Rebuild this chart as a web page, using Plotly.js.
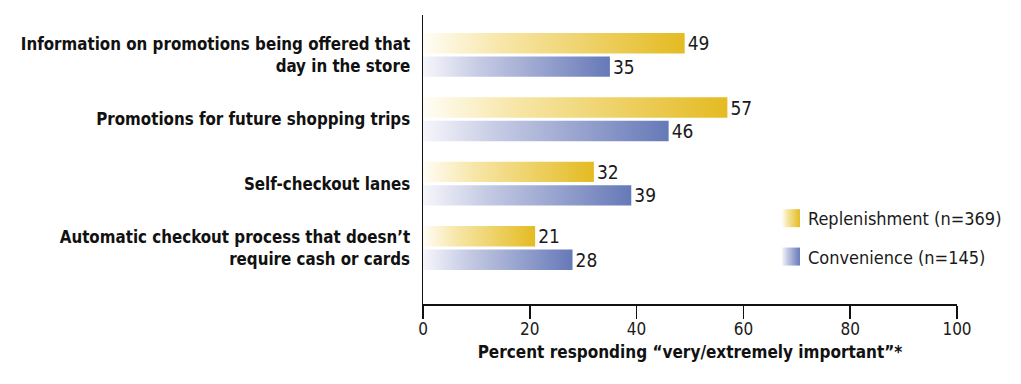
<!DOCTYPE html>
<html><head><meta charset="utf-8">
<script src="https://cdn.plot.ly/plotly-3.0.1.min.js"></script>
<style>html,body{margin:0;padding:0;background:#fff}</style>
</head>
<body>
<div id="chart" style="width:1021px;height:384px"></div>
<script>
const categories = [
  "Information on promotions being offered that<br>day in the store",
  "Promotions for future shopping trips",
  "Self-checkout lanes",
  "Automatic checkout process that doesn’t<br>require cash or cards"
];
const replenishment = [49, 57, 32, 21];
const convenience = [35, 46, 39, 28];
const seriesNames = ["Replenishment (n=369)", "Convenience (n=145)"];
const xTickVals = [0, 20, 40, 60, 80, 100];
const xTitle = "Percent responding “very/extremely important”*";

const FONT = "'DejaVu Sans Condensed', 'Liberation Sans Narrow', sans-serif";
const GOLD = "#e4bb22", BLUE = "#6679b8";

function barTrace(vals, name, color, grp) {
  return {
    type: "bar", orientation: "h", y: categories, x: vals, name: name,
    legendgroup: grp,
    marker: {color: color, line: {width: 0}},
    text: vals.map(String), textposition: "outside", cliponaxis: false,
    constraintext: "none",
    textfont: {family: FONT, size: 19, color: "#1a1a1a"},
    hoverinfo: "x+name"
  };
}

const data = [
  barTrace(replenishment, seriesNames[0], GOLD, "a"),
  barTrace(convenience, seriesNames[1], BLUE, "b")
];

const layout = {
  width: 1021, height: 384,
  margin: {l: 423, r: 64, t: 15, b: 80, autoexpand: false},
  paper_bgcolor: "#fff", plot_bgcolor: "#fff",
  font: {family: FONT, color: "#1a1a1a", size: 17},
  barmode: "group", bargap: 0.27, bargroupgap: 0.13,
  showlegend: true,
  legend: {
    x: 0.646, y: 0.36, xanchor: "left", yanchor: "top",
    traceorder: "grouped", tracegroupgap: 12,
    bgcolor: "rgba(0,0,0,0)",
    font: {family: FONT, size: 18, color: "#1a1a1a"}
  },
  xaxis: {
    range: [0, 100], tickvals: xTickVals, ticktext: xTickVals.map(String),
    showline: true, linecolor: "#111", linewidth: 1.5,
    ticks: "outside", ticklen: 13, tickwidth: 1.5, tickcolor: "#111",
    ticklabelstandoff: -4,
    showgrid: false, zeroline: false, fixedrange: true,
    tickfont: {family: FONT, size: 17, color: "#1a1a1a"},
    title: {text: xTitle, standoff: 8, font: {family: FONT, size: 17, weight: "bold", color: "#111"}}
  },
  yaxis: {
    type: "category", range: [3.87, -0.62],
    showline: true, linecolor: "#111", linewidth: 1.5,
    ticks: "", showgrid: false, zeroline: false, fixedrange: true,
    ticklabelstandoff: 8,
    tickfont: {family: FONT, size: 16.8, weight: "bold", color: "#111"}
  }
};

function addGradients(gd) {
  const svg = gd.querySelector("svg.main-svg");
  let defs = svg.querySelector("defs");
  if (!defs) { defs = document.createElementNS("http://www.w3.org/2000/svg", "defs"); svg.insertBefore(defs, svg.firstChild); }
  const grads = {
    gradGold: [["0", "#fffdf6"], ["0.3", "#f7e6a8"], ["1", GOLD]],
    gradBlue: [["0", "#f6f6fb"], ["0.3", "#c6cbe4"], ["1", BLUE]]
  };
  Object.keys(grads).forEach(id => {
    if (defs.querySelector("#" + id)) return;
    const lg = document.createElementNS("http://www.w3.org/2000/svg", "linearGradient");
    lg.setAttribute("id", id);
    lg.setAttribute("x1", "0"); lg.setAttribute("y1", "0");
    lg.setAttribute("x2", "1"); lg.setAttribute("y2", "0");
    grads[id].forEach(([o, c]) => {
      const s = document.createElementNS("http://www.w3.org/2000/svg", "stop");
      s.setAttribute("offset", o); s.setAttribute("stop-color", c);
      lg.appendChild(s);
    });
    defs.appendChild(lg);
  });
  const ids = ["gradGold", "gradBlue"];
  gd.querySelectorAll(".barlayer .trace").forEach((tr, i) => {
    tr.querySelectorAll("path").forEach(p => { p.style.fill = "url(#" + ids[i] + ")"; });
  });
  gd.querySelectorAll(".legend .traces").forEach((tr, i) => {
    tr.querySelectorAll(".legendpoints path").forEach(p => {
      p.setAttribute("d", "M-9,-9H9V9H-9Z");
      p.setAttribute("transform", "translate(23,0)");
      p.style.fill = "url(#" + ids[i] + ")";
      p.style.stroke = "none";
    });
  });
}

const gd = document.getElementById("chart");
Plotly.newPlot(gd, data, layout, {displayModeBar: false, staticPlot: true}).then(() => addGradients(gd));
</script>
</body></html>
